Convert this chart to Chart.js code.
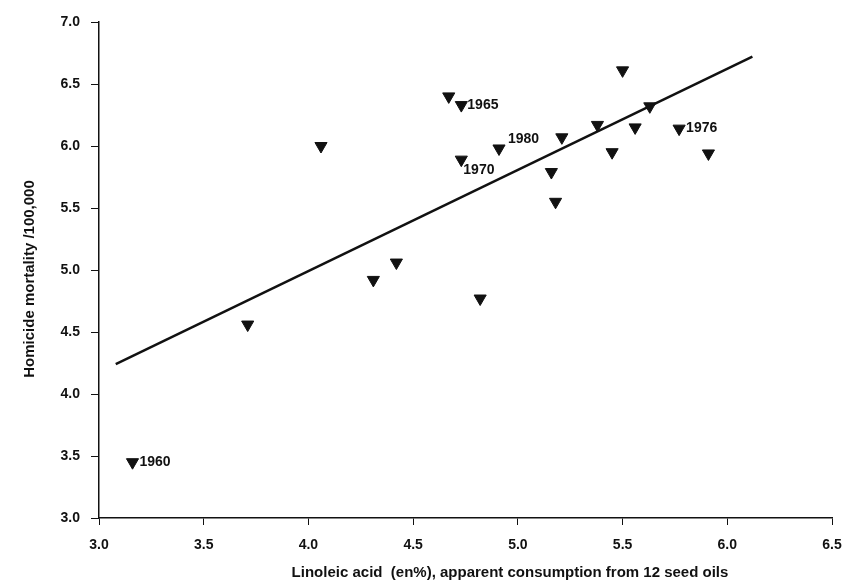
<!DOCTYPE html>
<html>
<head>
<meta charset="utf-8">
<script src="https://cdn.jsdelivr.net/npm/chart.js@4"></script>
<style>
  html, body { margin: 0; padding: 0; background: #fff; }
  #wrap { width: 849px; height: 582px; }
</style>
</head>
<body>
<div id="wrap"><canvas id="chart" width="849" height="582"></canvas></div>
<script>
// linoleic acid (en%) and homicide mortality per 100,000, one point per year
const xValues = [3.16, 3.71, 4.06, 4.31, 4.42, 4.67, 4.73, 4.73, 4.82, 4.91, 5.16, 5.18, 5.21, 5.38, 5.45, 5.50, 5.56, 5.63, 5.77, 5.91];
const yValues = [3.45, 4.56, 6.00, 4.92, 5.06, 6.40, 6.33, 5.89, 4.77, 5.98, 5.79, 5.55, 6.07, 6.17, 5.95, 6.61, 6.15, 6.32, 6.14, 5.94];
const yearLabels = ['1960', '', '', '', '', '', '1965', '1970', '', '1980', '', '', '', '', '', '', '', '', '1976', ''];

// regression line end points
const trendX = [3.08, 6.12];
const trendY = [4.24, 6.72];

const xTitle = 'Linoleic acid  (en%), apparent consumption from 12 seed oils';
const yTitle = 'Homicide mortality /100,000';

const ink = '#111';
const font = 'bold 14px "Liberation Sans", Arial, sans-serif';

// where each year label sits relative to its marker
const labelOffset = {
  '1960': [7, 0],
  '1965': [6, 0],
  '1970': [2, 11],
  '1980': [9, -9],
  '1976': [7, 0]
};

const textPlugin = {
  id: 'textPlugin',
  afterDraw(chart) {
    const ctx = chart.ctx;
    ctx.save();
    ctx.fillStyle = ink;

    // year labels next to their points
    ctx.font = font;
    ctx.textAlign = 'left';
    ctx.textBaseline = 'middle';
    const meta = chart.getDatasetMeta(0);
    meta.data.forEach((pt, i) => {
      const lab = yearLabels[i];
      if (!lab) return;
      const off = labelOffset[lab] || [7, 0];
      ctx.fillText(lab, pt.x + off[0], pt.y + off[1]);
    });

    // axis titles
    ctx.font = 'bold 15px "Liberation Sans", Arial, sans-serif';
    ctx.textAlign = 'center';
    ctx.fillText(xTitle, 510, 573);
    ctx.translate(30, 279);
    ctx.rotate(-Math.PI / 2);
    ctx.fillText(yTitle, 0, 0);
    ctx.restore();
  }
};

const axisStyle = {
  border: { display: true, color: ink, width: 1.5 },
  grid: { display: true, drawOnChartArea: false, drawTicks: true, color: ink, lineWidth: 1 },
  ticks: {
    color: ink,
    font: { family: '"Liberation Sans", Arial, sans-serif', size: 14, weight: 'bold' },
    stepSize: 0.5,
    callback: v => Number(v).toFixed(1)
  }
};

new Chart(document.getElementById('chart'), {
  type: 'scatter',
  data: {
    datasets: [
      {
        label: 'years',
        data: xValues.map((x, i) => ({ x: x, y: yValues[i] })),
        pointStyle: 'triangle',
        rotation: 180,
        pointRadius: 7,
        pointHoverRadius: 7,
        backgroundColor: ink,
        borderColor: ink,
        borderWidth: 1
      },
      {
        type: 'line',
        label: 'trend',
        data: trendX.map((x, i) => ({ x: x, y: trendY[i] })),
        borderColor: ink,
        borderWidth: 2.5,
        pointRadius: 0,
        fill: false
      }
    ]
  },
  options: {
    responsive: false,
    animation: false,
    layout: { padding: { left: 0, right: 17, top: 22, bottom: 0 } },
    plugins: {
      legend: { display: false },
      tooltip: { enabled: false }
    },
    scales: {
      x: {
        type: 'linear',
        min: 3,
        max: 6.5,
        border: axisStyle.border,
        grid: Object.assign({}, axisStyle.grid, { tickLength: 7 }),
        ticks: Object.assign({}, axisStyle.ticks, { padding: 12, maxRotation: 0 }),
        afterFit: s => { s.height = 64; s.paddingLeft = 0; s.paddingRight = 0; }
      },
      y: {
        type: 'linear',
        min: 3,
        max: 7,
        border: axisStyle.border,
        grid: Object.assign({}, axisStyle.grid, { tickLength: 8 }),
        ticks: Object.assign({}, axisStyle.ticks, { padding: 11 }),
        afterFit: s => { s.width = 99; }
      }
    }
  },
  plugins: [textPlugin]
});
</script>
</body>
</html>
